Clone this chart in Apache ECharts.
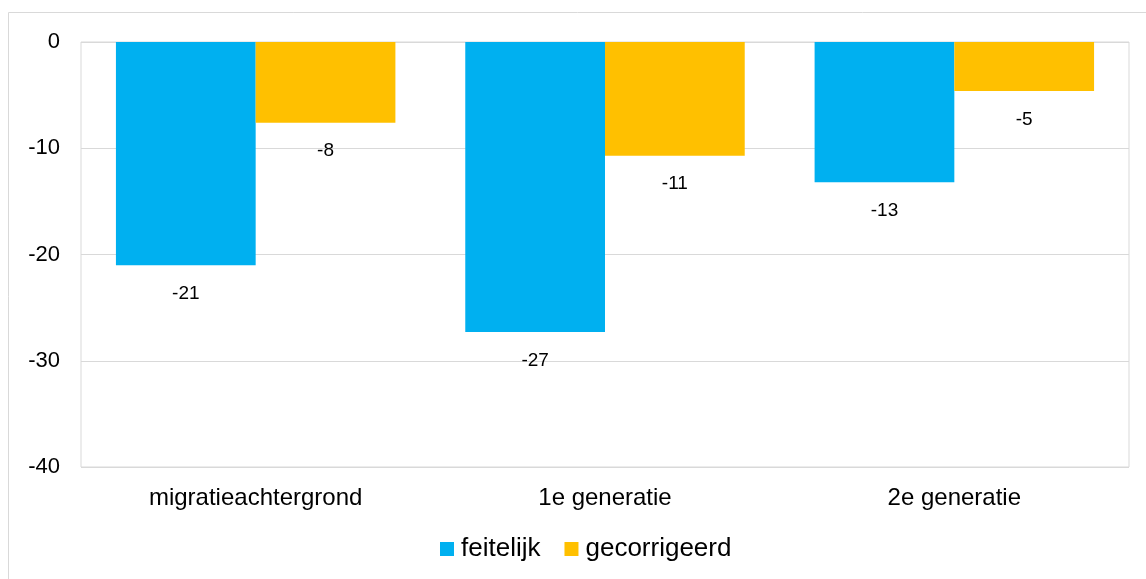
<!DOCTYPE html>
<html><head><meta charset="utf-8">
<script src="https://cdn.jsdelivr.net/npm/echarts@6/dist/echarts.min.js"></script>
<style>html,body{margin:0;padding:0;background:#fff}#c{width:1146px;height:579px}</style>
</head><body><div id="c"></div>
<script>
const categories = ['migratieachtergrond', '1e generatie', '2e generatie'];
const feitelijk = [-21.0, -27.3, -13.2];
const gecorrigeerd = [-7.6, -10.7, -4.6];
const seriesNames = ['feitelijk', 'gecorrigeerd'];
const yTicks = [0, -10, -20, -30, -40];

const chart = echarts.init(document.getElementById('c'));
const font = 'Liberation Sans, Arial, sans-serif';
const lbl = {
  show: true, position: 'bottom', distance: 19,
  fontFamily: font, fontSize: 19, color: '#000',
  formatter: p => String(Math.round(p.value))
};
chart.setOption({
  animation: false,
  textStyle: {fontFamily: font},
  graphic: [{type: 'rect', shape: {x: 8.5, y: 12.5, width: 1160, height: 600},
    style: {fill: 'none', stroke: '#d9d9d9', lineWidth: 1}, z: -1}],
  grid: {left: 81, right: 17, top: 42, bottom: 112, show: true, borderColor: '#d9d9d9', borderWidth: 1},
  legend: {
    data: seriesNames, top: 536, left: 440, padding: 0, itemWidth: 14, itemHeight: 14, itemGap: 24,
    icon: 'rect',
    textStyle: {fontFamily: font, fontSize: 26, color: '#000', padding: [0, 0, 0, 2]}
  },
  xAxis: {
    type: 'category', data: categories, position: 'bottom',
    axisLine: {show: false}, axisTick: {show: false},
    axisLabel: {fontFamily: font, fontSize: 24, color: '#000', margin: 19}
  },
  yAxis: {
    type: 'value', min: Math.min(...yTicks), max: Math.max(...yTicks), interval: 10,
    axisLine: {show: false}, axisTick: {show: false},
    splitLine: {lineStyle: {color: '#d9d9d9', width: 1}},
    axisLabel: {fontFamily: font, fontSize: 22, color: '#000', margin: 21}
  },
  series: [
    {name: seriesNames[0], type: 'bar', data: feitelijk, barGap: '0%', barCategoryGap: '20%',
     itemStyle: {color: '#00B0F0'}, label: lbl},
    {name: seriesNames[1], type: 'bar', data: gecorrigeerd,
     itemStyle: {color: '#FFC000'}, label: lbl}
  ]
});
</script></body></html>
